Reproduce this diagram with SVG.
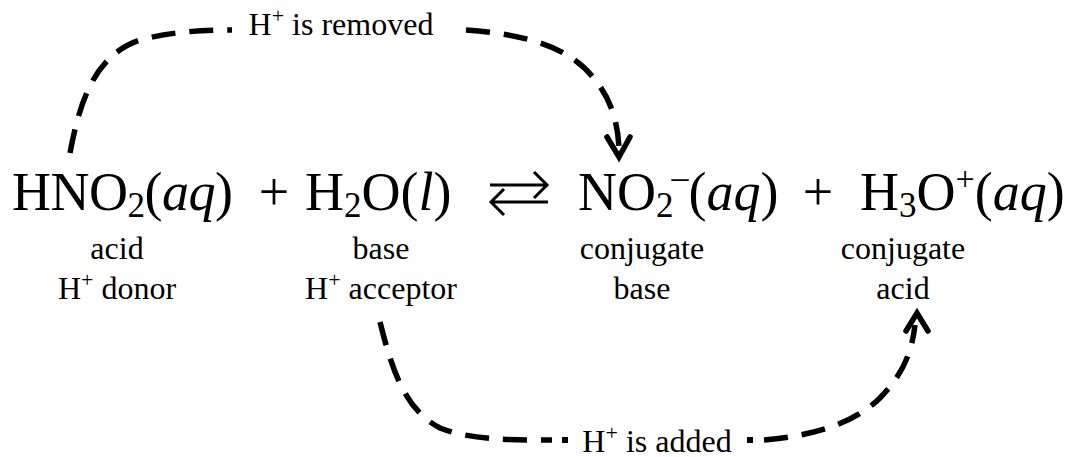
<svg xmlns="http://www.w3.org/2000/svg" width="1066" height="457" viewBox="0 0 1066 457">
<style>
text{font-family:"Liberation Serif","Times New Roman",serif;fill:#000}
.eq{font-size:54px}
.sub{font-size:35px}
.sup{font-size:22px}
.esup{font-size:34px}
.lbl{font-size:32px;text-anchor:middle}
.it{font-style:italic}
.dash{fill:none;stroke:#000;stroke-width:5.5;stroke-dasharray:24 14}
.head{fill:none;stroke:#000;stroke-width:5.5;stroke-linejoin:miter;stroke-linecap:round}
.dot{fill:#000}
.eqarrow{fill:none;stroke:#000;stroke-width:3}
</style>
<rect width="1066" height="457" fill="#fff"/>
<g id="hno2">
<text class="eq" x="12" y="210" letter-spacing="-0.5">HNO<tspan class="sub" dy="7">2</tspan><tspan dy="-7">(</tspan><tspan class="it">aq</tspan>)</text>
<text class="lbl" x="117" y="259">acid</text>
<text class="lbl" x="117" y="299">H<tspan class="sup" dy="-12">+</tspan><tspan dy="12"> donor</tspan></text>
</g>
<text class="eq" x="274" y="210" text-anchor="middle">+</text>
<g id="h2o">
<text class="eq" x="305" y="210">H<tspan class="sub" dy="7">2</tspan><tspan dy="-7">O(</tspan><tspan class="it">l</tspan>)</text>
<text class="lbl" x="381" y="259">base</text>
<text class="lbl" x="381" y="299">H<tspan class="sup" dy="-12">+</tspan><tspan dy="12"> acceptor</tspan></text>
</g>
<g id="equilibrium">
<path class="eqarrow" d="M490 185 H547 M534 172 L547 185 L534 198"/>
<path class="eqarrow" d="M548 202 H491 M504 189 L491 202 L504 215"/>
</g>
<g id="no2">
<text class="eq" x="578" y="210">NO<tspan class="sub" dy="7">2</tspan><tspan class="esup" dx="-2" dy="-29">–</tspan><tspan dy="22">(</tspan><tspan class="it">aq</tspan>)</text>
<text class="lbl" x="642" y="259">conjugate</text>
<text class="lbl" x="642" y="299">base</text>
</g>
<text class="eq" x="818" y="210" text-anchor="middle">+</text>
<g id="h3o">
<text class="eq" x="860" y="210">H<tspan class="sub" dy="7">3</tspan><tspan dy="-7">O</tspan><tspan class="esup" dy="-20">+</tspan><tspan dy="20">(</tspan><tspan class="it">aq</tspan>)</text>
<text class="lbl" x="903" y="259">conjugate</text>
<text class="lbl" x="903" y="299">acid</text>
</g>
<g id="connectors">
<path class="dash" d="M70 153 C80 100 95 55 140 40 C170 32 200 30 232 30"/>
<text class="lbl" x="341" y="35">H<tspan class="sup" dy="-12">+</tspan><tspan dy="12"> is removed</tspan></text>
<path class="dash" d="M466 30 C520 34 570 45 595 80 C612 100 618 125 619 148"/>
<path class="head" d="M607 137 L619 157 L630 137"/>
<path class="dash" d="M380 322 C392 370 405 410 440 428 C470 440 510 440 552 440"/>
<rect class="dot" x="562" y="437" width="6" height="6"/>
<text class="lbl" x="657" y="452">H<tspan class="sup" dy="-12">+</tspan><tspan dy="12"> is added</tspan></text>
<rect class="dot" x="747" y="437" width="6" height="6"/>
<path class="dash" d="M764 440 C810 436 852 425 880 398 C905 372 912 350 915 325"/>
<path class="head" d="M906 331 L917 313 L928 331"/>
</g>
</svg>
